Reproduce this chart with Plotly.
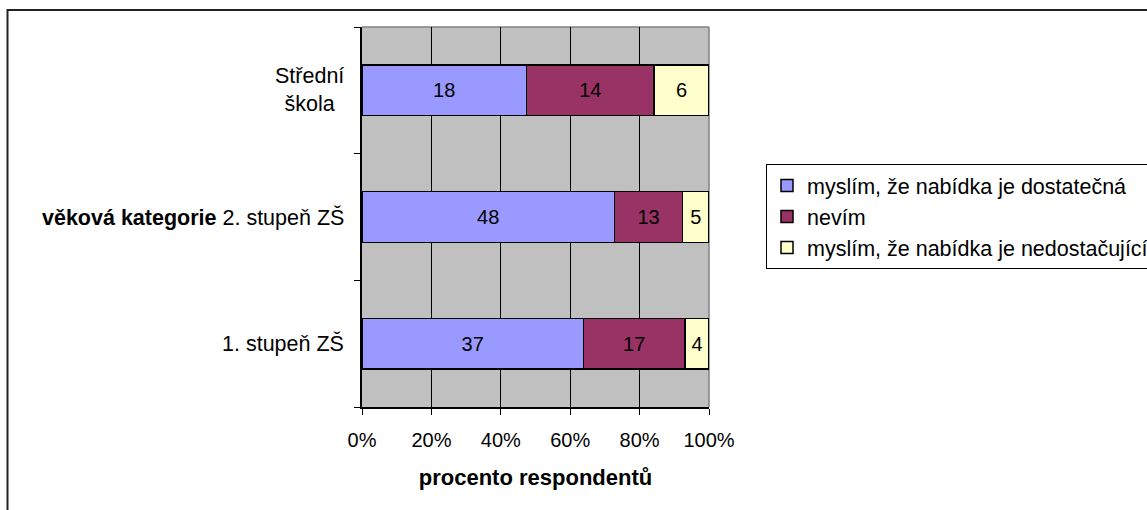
import plotly.graph_objects as go

categories = ["1. stupeň ZŠ", "2. stupeň ZŠ", "Střední<br>škola"]
cat_labels = ["1. stupeň ZŠ", "<b>věková kategorie</b> 2. stupeň ZŠ", "Střední<br>škola"]
series_names = ["myslím, že nabídka je dostatečná", "nevím", "myslím, že nabídka je nedostačující"]
dostatecna = [37, 48, 18]
nevim = [17, 13, 14]
nedostacujici = [4, 5, 6]
colors = ["#9999FF", "#993366", "#FFFFCC"]
x_ticks = [0, 20, 40, 60, 80, 100]
x_ticktext = ["0%", "20%", "40%", "60%", "80%", "100%"]

W, H = 1147, 510
FONT = "Liberation Sans, Arial, sans-serif"
FS = 21.5      # text labels / legend
FS_NUM = 20    # digits (ticks, bar values)
FS_TITLE = 22

ypos = list(range(len(categories)))
fig = go.Figure()
for name, vals, col in zip(series_names, [dostatecna, nevim, nedostacujici], colors):
    fig.add_trace(go.Bar(
        y=ypos, x=vals, name=name, orientation="h",
        marker=dict(color=col, line=dict(color="black", width=1.5)),
        text=[str(v) for v in vals], textposition="inside",
        insidetextanchor="middle", constraintext="none",
        textfont=dict(color="black", size=FS_NUM, family=FONT),
        hoverinfo="skip",
    ))

xd = [362 / W, 709 / W]
yd = [1 - 407 / H, 1 - 27 / H]

fig.update_layout(
    width=W, height=H,
    margin=dict(l=0, r=0, t=0, b=0, pad=0, autoexpand=False),
    barmode="stack", barnorm="percent", bargap=0.6,
    paper_bgcolor="white", plot_bgcolor="#C0C0C0",
    font=dict(family=FONT, size=FS, color="black"),
    showlegend=True,
    legend=dict(
        x=766 / W, y=1 - 164 / H, xanchor="left", yanchor="top",
        bgcolor="white", bordercolor="black", borderwidth=1,
        font=dict(family=FONT, size=FS, color="black"),
        traceorder="normal",
        itemclick=False, itemdoubleclick=False,
    ),
    xaxis=dict(
        domain=xd, range=[0, 100], tickvals=x_ticks, ticktext=x_ticktext,
        tickfont=dict(family=FONT, size=FS_NUM, color="black"),
        showgrid=True, gridcolor="black", gridwidth=1,
        showline=True, linecolor="black", linewidth=1.5,
        ticks="outside", ticklen=6, tickcolor="black",
        ticklabelstandoff=8, zeroline=False,
        title=dict(text="<b>procento respondentů</b>", standoff=20,
                   font=dict(family=FONT, size=FS_TITLE, color="black")),
        fixedrange=True,
    ),
    yaxis=dict(
        domain=yd, range=[-0.5, 2.5],
        tickvals=[-0.5, 0.5, 1.5, 2.5], showticklabels=False,
        ticks="outside", ticklen=6, tickcolor="black",
        showgrid=False, zeroline=False,
        showline=True, linecolor="black", linewidth=1.5,
        fixedrange=True,
    ),
)

# category labels placed through the y scale
for yv, lab in zip(ypos, cat_labels):
    fig.add_annotation(
        x=xd[0], xref="paper", y=yv, yref="y",
        text=lab, showarrow=False, xanchor="right", yanchor="middle",
        xshift=-16, align="center",
        font=dict(family=FONT, size=FS, color="black"),
    )

# plot area top/right border in gray
fig.add_shape(type="line", xref="x domain", yref="y domain", x0=0, x1=1, y0=1, y1=1,
              line=dict(color="#808080", width=1.5), layer="below")
fig.add_shape(type="line", xref="x domain", yref="y domain", x0=1, x1=1, y0=0, y1=1,
              line=dict(color="#808080", width=1.5), layer="below")

# chart outer border
fig.add_shape(type="rect", xref="paper", yref="paper",
              x0=7.5 / W, x1=(W + 10) / W, y0=-10 / H, y1=1 - 10 / H,
              line=dict(color="#222222", width=2), fillcolor="rgba(0,0,0,0)")

fig.write_html(
    "out.html",
    config={"displayModeBar": False},
    post_script="document.body.style.margin='0';document.body.style.overflow='hidden';",
)
